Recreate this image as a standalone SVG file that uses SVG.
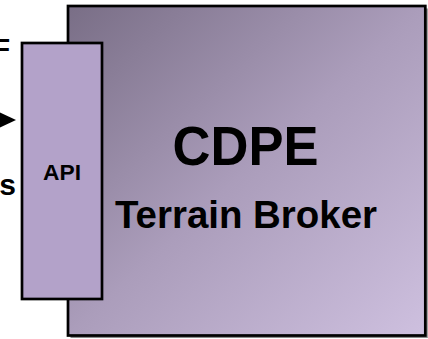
<svg xmlns="http://www.w3.org/2000/svg" width="428" height="339" viewBox="0 0 428 339">
  <style>
    .box { stroke: #000; stroke-width: 2.7; }
    .lbl { font-family: "Liberation Sans", Arial, sans-serif; font-weight: bold; fill: #000; }
  </style>
  <defs>
    <linearGradient id="bg" x1="0" y1="0" x2="1" y2="1">
      <stop offset="0" stop-color="#796e86"/>
      <stop offset="0.5" stop-color="#ab9dbb"/>
      <stop offset="1" stop-color="#cec0df"/>
    </linearGradient>
  </defs>
  <rect width="428" height="339" fill="#fff"/>
  <g id="partial-texts">
    <text class="lbl" x="10" y="58" font-size="28" text-anchor="end">F</text>
    <text class="lbl" x="16" y="195" font-size="30" text-anchor="end">s</text>
  </g>
  <g id="connectors">
    <line x1="-20" y1="120" x2="4" y2="120" stroke="#000" stroke-width="3"/>
    <polygon points="0,112.5 16,120 0,127.5" fill="#000"/>
  </g>
  <g id="broker">
    <rect x="70.5" y="8.5" width="357.3" height="329.5" fill="#8a8a8a"/>
    <rect class="box" x="68" y="6" width="357.3" height="329.5" fill="url(#bg)"/>
    <text class="lbl" x="245.5" y="165" font-size="55" text-anchor="middle" textLength="146" lengthAdjust="spacingAndGlyphs">CDPE</text>
    <text class="lbl" x="246" y="228" font-size="38" text-anchor="middle" textLength="262" lengthAdjust="spacingAndGlyphs">Terrain Broker</text>
  </g>
  <g id="api">
    <rect class="box" x="22" y="43" width="80" height="256" fill="#b3a2c9" stroke-width="2.5"/>
    <text class="lbl" x="62" y="180" font-size="21.5" text-anchor="middle" textLength="38" lengthAdjust="spacingAndGlyphs">API</text>
  </g>
</svg>
